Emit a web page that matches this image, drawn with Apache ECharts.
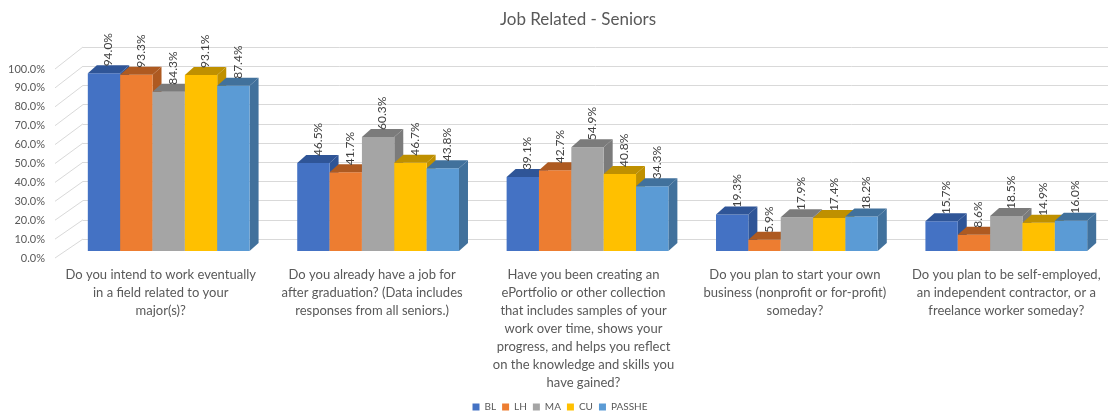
<!DOCTYPE html>
<html>
<head>
<meta charset="utf-8">
<script src="https://cdn.jsdelivr.net/npm/echarts@6/dist/echarts.min.js"></script>
<style>
  html, body { margin: 0; padding: 0; background: #fff; }
  #chart { width: 1120px; height: 420px; }
</style>
</head>
<body>
<div id="chart"></div>
<script>
var categories = [
  'Do you intend to work eventually\nin a field related to your\nmajor(s)?',
  'Do you already have a job for\nafter graduation? (Data includes\nresponses from all seniors.)',
  'Have you been creating an\nePortfolio or other collection\nthat includes samples of your\nwork over time, shows your\nprogress, and helps you reflect\non the knowledge and skills you\nhave gained?',
  'Do you plan to start your own\nbusiness (nonprofit or for-profit)\nsomeday?',
  'Do you plan to be self-employed,\nan independent contractor, or a\nfreelance worker someday?'
];
var seriesNames = ['BL', 'LH', 'MA', 'CU', 'PASSHE'];
var BL = [94.0, 46.5, 39.1, 19.3, 15.7];
var LH = [93.3, 41.7, 42.7, 5.9, 8.6];
var MA = [84.3, 60.3, 54.9, 17.9, 18.5];
var CU = [93.1, 46.7, 40.8, 17.4, 14.9];
var PASSHE = [87.4, 43.8, 34.3, 18.2, 16.0];
var yTicks = [0, 10, 20, 30, 40, 50, 60, 70, 80, 90, 100];

var seriesValues = [BL, LH, MA, CU, PASSHE];
var colors = ['#4472C4', '#ED7D31', '#A5A5A5', '#FFC000', '#5B9BD5'];
var darkColors = ['#2F5597', '#AE5A21', '#7B7B7B', '#BF9000', '#41719C'];

var FONT = 'Lato, "Open Sans", sans-serif';
var DX = 9, DY = -8;          // depth of the 3D bars
var FRONT_LEFT = 55, BACK_LEFT = 83;

var chart = echarts.init(document.getElementById('chart'));

function renderBar(params, api) {
  var s = params.seriesIndex;
  var i = api.value(0), v = api.value(1);
  var top = api.coord([i, v]);
  var base = api.coord([i, 0]);
  var band = api.size([1, 0])[0];
  var bw = band * 0.1545;
  var x0 = top[0] - 2.5 * bw + s * bw;
  var yT = top[1], yB = base[1];
  return {
    type: 'group',
    children: [
      {
        type: 'polygon',
        shape: { points: [[x0 + bw, yT], [x0 + bw + DX, yT + DY], [x0 + bw + DX, yB + DY], [x0 + bw, yB]] },
        style: { fill: darkColors[s] }
      },
      {
        type: 'rect',
        shape: { x: x0, y: yT, width: bw, height: yB - yT },
        style: { fill: colors[s] }
      },
      {
        type: 'polygon',
        shape: { points: [[x0, yT], [x0 + DX, yT + DY], [x0 + bw + DX, yT + DY], [x0 + bw, yT]] },
        style: { fill: darkColors[s] }
      },
      {
        type: 'text',
        x: x0 + bw / 2 + DX / 2,
        y: yT + DY + 1,
        rotation: Math.PI / 2,
        style: {
          text: v.toFixed(1) + '%',
          fill: '#404040',
          font: '12px ' + FONT,
          align: 'left',
          verticalAlign: 'middle'
        },
        z2: 10
      }
    ]
  };
}

var series = seriesNames.map(function (name, s) {
  return {
    name: name,
    type: 'custom',
    xAxisIndex: 1,
    yAxisIndex: 1,
    clip: false,
    itemStyle: { color: colors[s] },
    renderItem: renderBar,
    data: seriesValues[s].map(function (v, i) { return [i, v]; })
  };
});

var option = {
  backgroundColor: '#fff',
  animation: false,
  title: {
    text: 'Job Related - Seniors',
    left: 573,
    top: 6,
    textAlign: 'center',
    textStyle: { fontFamily: FONT, fontSize: 17, fontWeight: 'normal', color: '#595959' }
  },
  legend: {
    data: seriesNames,
    bottom: 3,
    left: 'center',
    icon: 'rect',
    itemWidth: 7,
    itemHeight: 7,
    itemGap: 6,
    textStyle: { fontFamily: FONT, fontSize: 10, color: '#595959' }
  },
  grid: [
    { left: FRONT_LEFT, right: 8, top: 69, bottom: 162 },   // front edge: labels
    { left: 64, right: 9, top: 62, bottom: 169 },           // bars
    { left: BACK_LEFT, right: 12, top: 47, bottom: 181 }    // back wall
  ],
  xAxis: [
    {
      gridIndex: 0, type: 'category', data: categories,
      axisLine: { show: false }, axisTick: { show: false },
      axisLabel: { margin: 8, fontFamily: FONT, fontSize: 13, lineHeight: 18, color: '#595959', interval: 0 }
    },
    { gridIndex: 1, type: 'category', data: categories, show: false },
    { gridIndex: 2, type: 'category', data: categories, show: false }
  ],
  yAxis: [
    {
      gridIndex: 0, type: 'value', min: 0, max: 100, interval: 10,
      axisLine: { show: false }, axisTick: { show: false }, splitLine: { show: false },
      axisLabel: {
        margin: 10, fontFamily: FONT, fontSize: 11, color: '#595959',
        formatter: function (v) { return v.toFixed(1) + '%'; }
      }
    },
    { gridIndex: 1, type: 'value', min: 0, max: 100, show: false },
    {
      gridIndex: 2, type: 'value', min: 0, max: 100, interval: 10,
      axisLine: { show: false }, axisTick: { show: false }, axisLabel: { show: false },
      splitLine: { show: true, lineStyle: { color: '#D9D9D9', width: 1 } }
    }
  ],
  series: series
};

chart.setOption(option);

// side wall gridlines, from the front edge to the back wall
var sideLines = yTicks.map(function (t) {
  var yf = chart.convertToPixel({ yAxisIndex: 0 }, t);
  var yb = chart.convertToPixel({ yAxisIndex: 2 }, t);
  return {
    type: 'line',
    shape: { x1: FRONT_LEFT, y1: yf, x2: BACK_LEFT, y2: yb },
    style: { stroke: '#D9D9D9', lineWidth: 1 },
    silent: true,
    z: 0
  };
});
chart.setOption({ graphic: sideLines });
</script>
</body>
</html>
